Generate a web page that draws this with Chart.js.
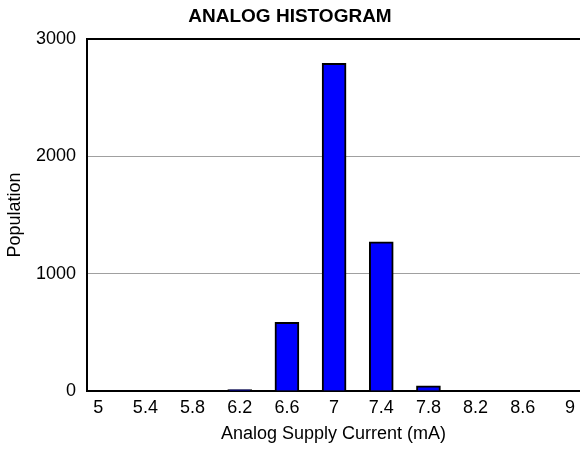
<!DOCTYPE html>
<html>
<head>
<meta charset="utf-8">
<script src="https://cdn.jsdelivr.net/npm/chart.js@4/dist/chart.umd.min.js"></script>
<style>
  html, body { margin: 0; padding: 0; background: #fff; }
  #wrap { width: 581px; height: 449px; }
</style>
</head>
<body>
<div id="wrap"><canvas id="histo"></canvas></div>
<script>
const correntes = [5, 5.4, 5.8, 6.2, 6.6, 7, 7.4, 7.8, 8.2, 8.6, 9];
const populacao = [0, 0, 0, 12, 585, 2790, 1270, 43, 0, 0, 0];
const ticksY = [0, 1000, 2000, 3000];

const fonte = 'Arial, "Liberation Sans", sans-serif';

const ctx = document.getElementById('histo').getContext('2d');
new Chart(ctx, {
    type: 'bar',
    data: {
        datasets: [{
            label: 'Population',
            data: correntes.map((x, i) => ({ x: x, y: populacao[i] })),
            backgroundColor: '#0000ff',
            borderColor: '#000',
            borderWidth: 2,
            barThickness: 24
        }]
    },
    options: {
        responsive: true,
        maintainAspectRatio: false,
        animation: false,
        layout: { padding: { left: 0, right: 1, top: 0, bottom: 0 } },
        plugins: {
            legend: { display: false },
            tooltip: { enabled: false },
            title: {
                display: true,
                text: 'ANALOG HISTOGRAM',
                color: '#000',
                font: { family: fonte, size: 19, weight: 'bold' },
                padding: { top: 5, bottom: 11 }
            }
        },
        scales: {
            x: {
                type: 'linear',
                offset: false,
                min: 4.905,
                max: 9.085,
                afterBuildTicks: function(scale) {
                    scale.ticks = correntes.map(v => ({ value: v }));
                },
                afterFit: function(scale) { scale.height = 58; },
                ticks: {
                    color: '#000',
                    font: { family: fonte, size: 18 },
                    padding: 6,
                    maxRotation: 0,
                    autoSkip: false,
                    callback: function(value) { return String(value); }
                },
                grid: { display: false, drawTicks: false, offset: false },
                border: { display: true, color: '#000', width: 2 },
                title: {
                    display: true,
                    text: 'Analog Supply Current (mA)',
                    color: '#000',
                    font: { family: fonte, size: 18 },
                    padding: { top: 0, bottom: 4 }
                }
            },
            y: {
                min: 0,
                max: 3000,
                afterBuildTicks: function(scale) {
                    scale.ticks = ticksY.map(v => ({ value: v }));
                },
                afterFit: function(scale) { scale.width = 87; },
                ticks: {
                    color: '#000',
                    font: { family: fonte, size: 18 },
                    padding: 11,
                    callback: function(value) { return String(value); }
                },
                grid: {
                    drawTicks: false,
                    color: function(c) { return c.tick && c.tick.value === 3000 ? '#000' : '#a0a0a0'; },
                    lineWidth: function(c) { return c.tick && c.tick.value === 3000 ? 2 : 1; }
                },
                border: { display: true, color: '#000', width: 2 },
                title: {
                    display: true,
                    text: 'Population',
                    color: '#000',
                    font: { family: fonte, size: 18 },
                    padding: { top: 4, bottom: 0 }
                }
            }
        }
    }
});
</script>
</body>
</html>
